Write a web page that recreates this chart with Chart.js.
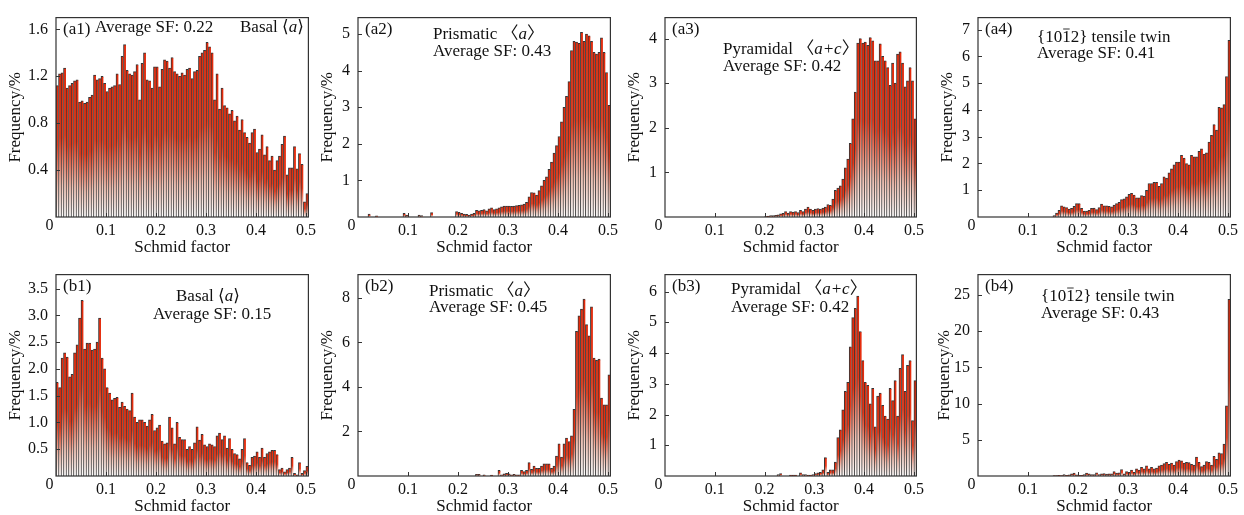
<!DOCTYPE html>
<html>
<head>
<meta charset="utf-8">
<script src="https://cdn.jsdelivr.net/npm/chart.js@4/dist/chart.umd.min.js"></script>
<style>
  body { margin: 0; background: #fff; width: 1244px; height: 515px; position: relative; overflow: hidden; }
  canvas { position: absolute; }
</style>
</head>
<body>
<script>
// bin centres of the Schmid factor histograms (bin width 0.005)
const binCenters = [
  0.0025,0.0075,0.0125,0.0175,0.0225,0.0275,0.0325,0.0375,0.0425,0.0475,
  0.0525,0.0575,0.0625,0.0675,0.0725,0.0775,0.0825,0.0875,0.0925,0.0975,
  0.1025,0.1075,0.1125,0.1175,0.1225,0.1275,0.1325,0.1375,0.1425,0.1475,
  0.1525,0.1575,0.1625,0.1675,0.1725,0.1775,0.1825,0.1875,0.1925,0.1975,
  0.2025,0.2075,0.2125,0.2175,0.2225,0.2275,0.2325,0.2375,0.2425,0.2475,
  0.2525,0.2575,0.2625,0.2675,0.2725,0.2775,0.2825,0.2875,0.2925,0.2975,
  0.3025,0.3075,0.3125,0.3175,0.3225,0.3275,0.3325,0.3375,0.3425,0.3475,
  0.3525,0.3575,0.3625,0.3675,0.3725,0.3775,0.3825,0.3875,0.3925,0.3975,
  0.4025,0.4075,0.4125,0.4175,0.4225,0.4275,0.4325,0.4375,0.4425,0.4475,
  0.4525,0.4575,0.4625,0.4675,0.4725,0.4775,0.4825,0.4875,0.4925,0.4975,
  0.5025
];
const xTicks = [0.1, 0.2, 0.3, 0.4, 0.5];

// frequency (%) per bin, row (a)
const freqA1 = [
  1.12,1.22,1.23,1.27,1.10,1.12,1.14,1.16,1.17,0.98,
  0.99,0.97,0.98,1.02,1.04,1.21,1.17,1.18,1.20,1.14,
  1.07,1.10,1.11,1.12,1.22,1.13,1.37,1.47,1.25,1.22,
  1.21,1.24,1.30,1.00,1.31,1.40,1.17,1.16,1.10,1.28,
  1.28,1.11,1.26,1.34,1.33,1.27,1.36,1.24,1.22,1.20,
  1.23,1.21,1.26,1.27,1.18,1.24,1.25,1.37,1.40,1.42,
  1.49,1.45,1.40,1.00,1.22,0.92,1.10,0.95,0.93,0.88,
  0.91,0.82,0.86,0.74,0.83,0.72,0.68,0.63,0.72,0.75,
  0.55,0.58,0.70,0.53,0.60,0.48,0.52,0.40,0.48,0.52,
  0.62,0.69,0.36,0.42,0.42,0.60,0.41,0.54,0.45,0.13,
  0.20
];
const freqA2 = [
  0,0,0,0,0.08,0,0,0.03,0,0,
  0,0,0,0,0,0,0,0,0.10,0.05,
  0,0,0,0,0.05,0.04,0,0,0,0.12,
  0,0,0,0,0,0,0,0,0,0.15,
  0.13,0.10,0.08,0.07,0.05,0.08,0.10,0.18,0.17,0.18,
  0.20,0.17,0.22,0.25,0.20,0.22,0.25,0.28,0.30,0.30,
  0.30,0.29,0.30,0.31,0.32,0.33,0.35,0.40,0.55,0.67,
  0.66,0.60,0.72,0.85,1.00,1.10,1.30,1.50,1.75,1.95,
  2.20,2.60,3.00,3.30,3.70,4.55,4.80,4.78,4.75,5.05,
  4.80,5.00,4.95,4.80,4.50,4.45,4.50,4.90,4.50,3.95,
  3.05
];
const freqA3 = [
  0,0,0,0,0,0,0,0,0,0,
  0,0,0,0,0,0,0,0,0,0,
  0,0,0,0,0,0,0,0,0,0,
  0,0,0,0,0,0,0,0,0,0,
  0.01,0.02,0.03,0.03,0.04,0.05,0.07,0.08,0.12,0.09,
  0.12,0.11,0.12,0.10,0.15,0.12,0.18,0.22,0.18,0.15,
  0.18,0.19,0.18,0.20,0.22,0.28,0.26,0.40,0.60,0.65,
  0.70,0.85,1.10,1.30,1.65,2.20,2.80,3.90,4.00,3.90,
  3.92,3.85,4.02,3.95,3.50,3.50,3.88,3.60,3.50,3.35,
  2.95,3.45,3.00,3.65,3.70,3.45,2.92,3.05,3.35,3.05,
  2.20
];
const freqA4 = [
  0,0,0,0,0,0,0,0,0,0,
  0,0,0,0,0,0,0,0,0,0,
  0,0,0,0,0,0,0,0,0,0,
  0.05,0.15,0.25,0.42,0.38,0.35,0.30,0.32,0.40,0.50,
  0.50,0.32,0.22,0.22,0.25,0.32,0.33,0.28,0.35,0.48,
  0.42,0.42,0.40,0.38,0.45,0.50,0.55,0.65,0.68,0.75,
  0.85,0.88,0.82,0.72,0.72,0.80,0.78,1.00,1.25,1.25,
  1.30,1.30,1.15,1.25,1.50,1.45,1.65,1.80,1.95,2.05,
  2.05,2.30,2.20,2.00,1.95,2.30,2.25,2.25,2.45,2.55,
  2.35,2.40,2.80,3.05,3.45,3.25,4.10,4.08,4.20,5.25,
  6.60
];

// frequency (%) per bin, row (b)
const freqB1 = [
  1.75,1.65,2.20,2.30,2.22,1.85,1.90,2.30,2.45,2.95,
  3.28,2.37,2.48,2.48,2.35,2.37,2.50,2.95,2.20,2.00,
  1.65,1.55,1.42,1.45,1.47,1.28,1.38,1.30,1.25,1.22,
  1.55,1.10,1.00,1.05,1.05,1.00,0.93,1.05,1.15,0.85,
  0.90,0.95,0.65,0.60,0.62,1.10,0.90,0.60,1.00,0.72,
  0.68,0.68,0.50,0.55,0.50,0.62,0.92,0.67,0.78,0.58,
  0.55,0.60,0.58,0.55,0.75,0.80,0.68,0.75,0.52,0.70,
  0.50,0.42,0.40,0.32,0.50,0.70,0.25,0.20,0.35,0.37,
  0.45,0.35,0.52,0.35,0.42,0.45,0.48,0.48,0.40,0.12,
  0.15,0.08,0.12,0.15,0.35,0.05,0.02,0.25,0.05,0.10,
  0.18
];
const freqB2 = [
  0,0,0,0,0,0,0,0,0,0,
  0,0,0,0,0,0,0,0,0,0,
  0,0,0,0,0,0,0,0,0,0,
  0,0,0,0,0,0,0,0,0,0,
  0,0,0,0,0,0,0,0.08,0.08,0,
  0.05,0,0,0.04,0,0,0.25,0.05,0.10,0.12,
  0.10,0.05,0.08,0.05,0.05,0.25,0.20,0.25,0.60,0.30,
  0.45,0.35,0.35,0.45,0.55,0.55,0.55,0.35,0.45,0.90,
  1.45,0.85,1.45,1.70,1.55,1.80,3.00,6.50,7.20,7.50,
  7.95,6.80,6.30,7.60,5.30,5.20,5.25,3.50,3.20,3.20,
  4.55
];
const freqB3 = [
  0,0,0,0,0,0,0,0,0,0,
  0,0,0,0,0,0,0,0,0,0,
  0,0,0,0,0,0,0,0,0,0,
  0,0,0,0,0,0,0,0,0,0,
  0,0,0,0,0,0.05,0.08,0,0,0,
  0.03,0.03,0.03,0,0.10,0.05,0.05,0.03,0.03,0.05,
  0.08,0.10,0.12,0.20,0.60,0.12,0.20,0.20,0.45,1.25,
  1.50,2.15,2.75,3.05,4.20,5.15,5.45,5.85,4.70,3.75,
  3.05,2.95,2.35,2.85,1.60,2.60,2.70,2.30,1.95,1.85,
  2.85,2.45,3.10,1.95,3.50,3.95,2.75,3.60,3.75,1.80,
  3.10
];
const freqB4 = [
  0,0,0,0,0,0,0,0,0,0,
  0,0,0,0,0,0,0,0,0,0,
  0,0,0,0,0,0,0,0,0,0,
  0.05,0.05,0.10,0.05,0.20,0.10,0.15,0.30,0.40,0.15,
  0.10,0.10,0.20,0.40,0.30,0.20,0.20,0.45,0.20,0.30,
  0.35,0.25,0.30,0.30,0.60,0.40,0.45,0.90,0.30,0.60,
  0.50,0.80,0.50,1.00,0.80,1.20,1.00,1.40,1.00,1.20,
  1.00,1.10,1.40,1.50,1.70,1.90,1.60,1.80,1.50,2.00,
  2.20,2.10,1.80,1.90,1.85,1.60,1.50,2.60,1.90,1.30,
  1.50,2.00,1.90,1.50,2.70,2.30,3.20,3.10,4.40,9.70,
  24.40
];

// y tick labels per panel
const yTicksA1 = [0.4, 0.8, 1.2, 1.6];
const yTicksA2 = [1, 2, 3, 4, 5];
const yTicksA3 = [1, 2, 3, 4];
const yTicksA4 = [1, 2, 3, 4, 5, 6, 7];
const yTicksB1 = [0.5, 1.0, 1.5, 2.0, 2.5, 3.0, 3.5];
const yTicksB2 = [2, 4, 6, 8];
const yTicksB3 = [1, 2, 3, 4, 5, 6];
const yTicksB4 = [5, 10, 15, 20, 25];

const FONT = '"Liberation Serif", "DejaVu Serif", "Noto Sans CJK SC", serif';
const RED = '#e42b0c';
const TXT = 17; // annotation / axis title size
const TICK = 16;

// text runs: '' normal, 'i' italic, 'o' overlined
const basal = [['Basal ⟨', ''], ['a', 'i'], ['⟩', '']];
const prism = [['Prismatic 〈', ''], ['a', 'i'], ['〉', '']];
const pyram = [['Pyramidal 〈', ''], ['a+c', 'i'], ['〉', '']];
const twin = [['{10', ''], ['1', 'o'], ['2} tensile twin', '']];

// layout of the 8 panels (absolute page coordinates of the plot frames)
const panels = [
  { name: '(a1)', data: freqA1, yTicks: yTicksA1, yMax: 1.7,  dec: 1, left: 56,  right: 310,  top: 13,  bottom: 217, titleX: 16,
    notes: [{ x: 95, y: 28, runs: [['Average SF: 0.22', '']] }, { x: 240, y: 28, runs: basal }] },
  { name: '(a2)', data: freqA2, yTicks: yTicksA2, yMax: 5.45, dec: 0, left: 358, right: 612,  top: 13,  bottom: 217, titleX: 328,
    notes: [{ x: 433, y: 35, runs: prism }, { x: 433, y: 52, runs: [['Average SF: 0.43', '']] }] },
  { name: '(a3)', data: freqA3, yTicks: yTicksA3, yMax: 4.47, dec: 0, left: 665, right: 918,  top: 13,  bottom: 217, titleX: 635,
    notes: [{ x: 723, y: 50, runs: pyram }, { x: 723, y: 67, runs: [['Average SF: 0.42', '']] }] },
  { name: '(a4)', data: freqA4, yTicks: yTicksA4, yMax: 7.45, dec: 0, left: 978, right: 1232, top: 13,  bottom: 217, titleX: 948,
    notes: [{ x: 1037, y: 38, runs: twin }, { x: 1037, y: 54, runs: [['Average SF: 0.41', '']] }] },
  { name: '(b1)', data: freqB1, yTicks: yTicksB1, yMax: 3.76, dec: 1, left: 56,  right: 310,  top: 270, bottom: 476, titleX: 16,
    notes: [{ x: 176, y: 297, runs: basal }, { x: 153, y: 315, runs: [['Average SF: 0.15', '']] }] },
  { name: '(b2)', data: freqB2, yTicks: yTicksB2, yMax: 9.05, dec: 0, left: 358, right: 612,  top: 270, bottom: 476, titleX: 328,
    notes: [{ x: 429, y: 292, runs: prism }, { x: 429, y: 308, runs: [['Average SF: 0.45', '']] }] },
  { name: '(b3)', data: freqB3, yTicks: yTicksB3, yMax: 6.55, dec: 0, left: 665, right: 918,  top: 270, bottom: 476, titleX: 635,
    notes: [{ x: 731, y: 290, runs: pyram }, { x: 731, y: 308, runs: [['Average SF: 0.42', '']] }] },
  { name: '(b4)', data: freqB4, yTicks: yTicksB4, yMax: 27.8, dec: 0, left: 978, right: 1232, top: 270, bottom: 476, titleX: 945,
    notes: [{ x: 1041, y: 297, runs: twin }, { x: 1041, y: 314, runs: [['Average SF: 0.43', '']] }] },
];

function drawRuns(ctx, x, y, runs) {
  ctx.textBaseline = 'middle';
  ctx.textAlign = 'left';
  for (const [t, s] of runs) {
    ctx.font = (s === 'i' ? 'italic ' : '') + TXT + 'px ' + FONT;
    ctx.fillText(t, x, y);
    const w = ctx.measureText(t).width;
    if (s === 'o') {
      ctx.beginPath();
      ctx.moveTo(x + 1, y - 9);
      ctx.lineTo(x + w - 1, y - 9);
      ctx.lineWidth = 1;
      ctx.stroke();
    }
    x += w;
  }
}

// frame, inward ticks, corner "0" and the panel texts
const framePlugin = {
  id: 'frame',
  afterDraw(chart, args, opts) {
    const { ctx, chartArea: a, scales } = chart;
    ctx.save();
    ctx.strokeStyle = '#333';
    ctx.lineWidth = 1.2;
    ctx.strokeRect(a.left, a.top, a.right - a.left, a.bottom - a.top);
    ctx.lineWidth = 1;
    ctx.beginPath();
    scales.x.ticks.forEach(t => {
      const px = Math.round(scales.x.getPixelForValue(t.value)) + 0.5;
      ctx.moveTo(px, a.bottom); ctx.lineTo(px, a.bottom - 4);
    });
    scales.y.ticks.forEach(t => {
      const py = Math.round(scales.y.getPixelForValue(t.value)) + 0.5;
      ctx.moveTo(a.left, py); ctx.lineTo(a.left + 4, py);
    });
    ctx.stroke();
    ctx.fillStyle = '#111';
    ctx.font = TICK + 'px ' + FONT;
    ctx.textAlign = 'center';
    ctx.textBaseline = 'middle';
    ctx.fillText('0', a.left - 6.5, a.bottom + 9);
    drawRuns(ctx, a.left + 7, a.top + 12, [[opts.name, '']]);
    opts.notes.forEach(n => drawRuns(ctx, n.x - opts.ox, n.y - opts.oy, n.runs));
    ctx.restore();
  }
};

panels.forEach(p => {
  const yAxisW = 56, padR = 10, padT = 13;
  const ox = p.left - yAxisW;
  const oy = p.top - padT;
  const titleCenter = p.bottom + 31;          // "Schmid factor" centre
  const h = Math.round(titleCenter + TXT * 0.6 - oy);
  const w = p.right - ox + padR;
  const xAxisH = h - (p.bottom - oy);

  const canvas = document.createElement('canvas');
  canvas.width = w; canvas.height = h;
  canvas.style.left = ox + 'px';
  canvas.style.top = oy + 'px';
  document.body.appendChild(canvas);

  new Chart(canvas, {
    type: 'bar',
    data: {
      datasets: [{
        data: binCenters.map((x, i) => ({ x: x, y: p.data[i] })),
        // each bar fades from red at its top to white at the base
        backgroundColor: (c) => {
          const chart = c.chart;
          if (!chart.chartArea || c.type !== 'data') return RED;
          const yS = chart.scales.y;
          const top = yS.getPixelForValue(c.parsed.y);
          const base = yS.getPixelForValue(0);
          if (base - top < 1) return RED;
          const g = chart.ctx.createLinearGradient(0, top, 0, base);
          g.addColorStop(0, '#e4290a');
          g.addColorStop(0.45, '#ea3818');
          g.addColorStop(0.78, '#f5c4b6');
          g.addColorStop(1, '#ffffff');
          return g;
        },
        borderColor: '#363636',
        borderWidth: { top: 1, left: 1, right: 0, bottom: 0 },
        borderSkipped: false,
        barPercentage: 1,
        categoryPercentage: 1,
      }]
    },
    options: {
      responsive: false,
      animation: false,
      devicePixelRatio: 1,
      layout: { padding: { top: padT, right: padR, left: 0, bottom: 0 } },
      plugins: {
        legend: { display: false },
        tooltip: { enabled: false },
        frame: { name: p.name, notes: p.notes, ox: ox, oy: oy },
      },
      scales: {
        x: {
          type: 'linear',
          min: 0, max: 0.505,
          offset: false,
          grid: { display: false, offset: false, drawTicks: false },
          border: { display: false },
          afterBuildTicks: s => { s.ticks = xTicks.map(v => ({ value: v })); },
          afterFit: s => { s.height = xAxisH; },
          ticks: { padding: 4, color: '#111', font: { family: FONT, size: TICK }, callback: v => v.toFixed(1) },
          title: { display: true, text: 'Schmid factor', color: '#111', padding: { top: 0, bottom: 0 }, font: { family: FONT, size: TXT } },
        },
        y: {
          min: 0, max: p.yMax,
          grid: { display: false, drawTicks: false },
          border: { display: false },
          afterBuildTicks: s => { s.ticks = p.yTicks.map(v => ({ value: v })); },
          afterFit: s => { s.width = yAxisW; },
          ticks: { padding: 8, color: '#111', font: { family: FONT, size: TICK }, callback: v => v.toFixed(p.dec) },
          title: { display: true, text: 'Frequency/%', color: '#111', padding: { top: p.titleX - ox - TXT * 0.6, bottom: 0 }, font: { family: FONT, size: TXT } },
        },
      },
    },
    plugins: [framePlugin],
  });
});
</script>
</body>
</html>
